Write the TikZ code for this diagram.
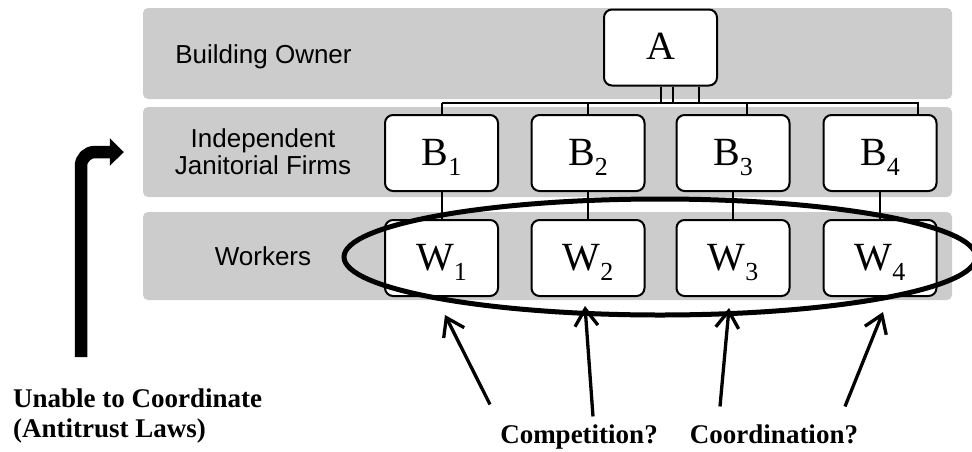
\documentclass[tikz,border=0pt]{standalone}
\usepackage{fontspec}
\setmainfont{Liberation Serif}
\newfontfamily\bandfont{Liberation Sans}
\usetikzlibrary{positioning,arrows.meta}
\definecolor{bandgray}{RGB}{204,204,204}
\newcommand{\lowsub}[1]{\raisebox{-10pt}{\fontsize{26}{26}\selectfont #1}}

\begin{document}
\begin{tikzpicture}[x=1pt, y=-1pt,
  band/.style={fill=bandgray, rounded corners=5pt, inner sep=0pt, minimum width=809pt},
  tag/.style={font=\bandfont\fontsize{26}{27}\selectfont, inner sep=0pt, align=center},
  unit/.style={draw, line width=2pt, fill=white, rounded corners=8pt, minimum width=113pt,
    minimum height=76pt, inner sep=0pt, text height=27pt, text depth=3pt, font=\fontsize{40}{40}\selectfont},
  note/.style={font=\bfseries\fontsize{27}{30}\selectfont, inner sep=0pt},
  link/.style={line width=2pt},
  pointer/.style={line width=3.3pt, -{Straight Barb[length=17pt,width=23pt]}},
  liftarrow/.style={line width=12.5pt, rounded corners=14pt, -{Triangle[length=14pt,width=27pt]}}]
\useasboundingbox (0,0) rectangle (972,451);

\node[band, minimum height=91pt] (ownerband) at (547.5,53.5) {};
\node[band, minimum height=90pt] (firmband) at (547.5,152) {};
\node[band, minimum height=88pt] (workerband) at (547.5,256) {};

\node[tag, anchor=base] (ownertag) at (263.5,63) {Building Owner};
\node[tag, anchor=north] (firmtag) at (263,128.5) {Independent\\Janitorial Firms};
\node[tag, anchor=base] (workertag) at (263,265) {Workers};

\node[unit] (A) at (660.5,47.5) {A};
\coordinate (busL) at (441.5,103);
\foreach \dx in {0.5,12,38.5}
  \draw[link] ([xshift=\dx pt]A.south) |- (busL);

\foreach \i/\x/\dx in {1/441.5/0, 2/588/0, 3/733/14, 4/880/38} {
  \node[unit] (B\i) at (\x,153) {B\lowsub{\i}};
  \node[unit] (W\i) at (\x,258) {W\lowsub{\i}};
  \draw[link] (B\i) -- (W\i);
  \draw[link] ([xshift=\dx pt]B\i.north) |- (busL);
}

\draw[line width=5pt] (660,257) ellipse [x radius=316pt, y radius=58pt];

\node[note, anchor=north west, align=left] (unable) at (13,388.6) {Unable to Coordinate\\(Antitrust Laws)};
\node[note, anchor=base] (competition) at (579,443) {Competition?};
\node[note, anchor=base] (coordination) at (774,443) {Coordination?};

\coordinate (aim1) at (445,315);
\coordinate (aim2) at (585,306);
\coordinate (aim3) at (729,308);
\coordinate (aim4) at (883,312);
\draw[pointer] ([xshift=-89pt,yshift=19.6pt]competition.north) -- (aim1);
\draw[pointer] ([xshift=14pt,yshift=7.6pt]competition.north) -- (aim2);
\draw[pointer] ([xshift=-54pt,yshift=17.6pt]coordination.north) -- (aim3);
\draw[pointer] ([xshift=71pt,yshift=17.6pt]coordination.north) -- (aim4);

\draw[liftarrow] ([xshift=68pt,yshift=31.6pt]unable.north west) |- ([xshift=-19pt]firmband.west);
\end{tikzpicture}
\end{document}
